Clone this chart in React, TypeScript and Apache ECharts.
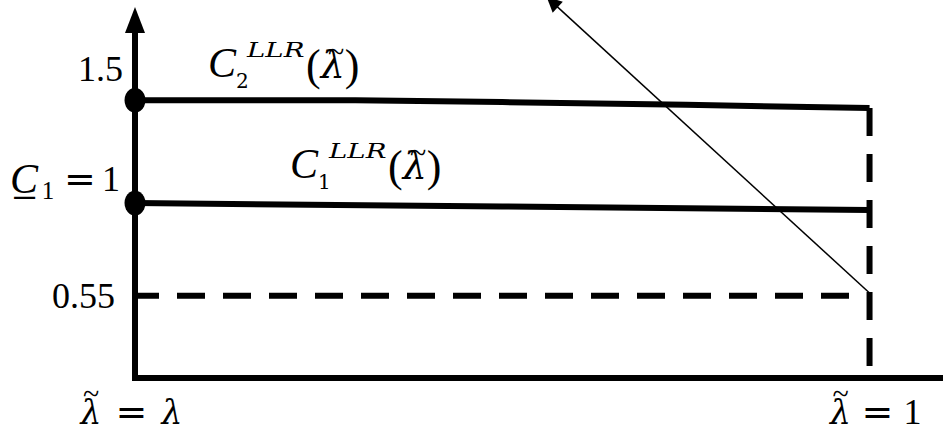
import React, { useEffect, useRef } from 'react';
import * as echarts from 'echarts';

// ---- data (schematic values) ----
const xRange = [0, 1.1];
const yRange = [0.15, 1.89];
const xTicks = [0, 1];
const yTicks = [0.55, 1, 1.5];
const c2Data = [[0, 1.5], [0.3, 1.5], [0.5, 1.491], [0.75, 1.478], [1, 1.462]];
const c1Data = [[0, 1], [0.5, 0.984], [1, 0.966]];
const lowerBound = [[0, 0.55], [1, 0.55]];
const boundary = [[1, 1.462], [1, 0.208]];
const startPoints = [[0, 1.5], [0, 1]];
const arrowLine = [[1, 0.563], [0.568, 1.977]];

const SERIF = "'Liberation Serif', 'DejaVu Serif', serif";
const DEJAVU = "'DejaVu Serif', serif";

function curveLabel(x0: number, b: number, sub: string) {
  const txt = (x: number, y: number, text: string, fontSize: number, italic: boolean, family: string, extra: any = {}) => ({
    type: 'text',
    x,
    y,
    ...extra,
    style: {
      text,
      fontSize,
      fontStyle: italic ? 'italic' : 'normal',
      fontFamily: family,
      fill: '#000',
      verticalAlign: 'middle',
      align: 'left',
    },
  });
  return {
    type: 'group',
    silent: true,
    children: [
      txt(x0, b - 14.2, 'C', 42, true, SERIF),
      txt(x0 + 28, b + 11 - 6.9, sub, 20, false, DEJAVU),
      txt(x0 + 39, b - 20 - 6.9, 'LLR', 20, true, DEJAVU, { scaleX: 1.38 }),
      {
        type: 'text',
        x: x0 + 98,
        y: b + 3 - 14.8,
        style: {
          text: '{p|(}{l|λ}{p|)}',
          verticalAlign: 'middle',
          align: 'left',
          rich: {
            p: { fontSize: 44, fontFamily: SERIF, fill: '#000', lineHeight: 44 },
            l: { fontSize: 38, fontFamily: DEJAVU, fontStyle: 'italic', fill: '#000', lineHeight: 44 },
          },
        },
      },
      {
        type: 'text',
        x: x0 + 98 + 30,
        y: b - 26,
        style: { text: '~', fontSize: 30, fontFamily: SERIF, fill: '#000', verticalAlign: 'middle', align: 'center' },
      },
    ],
  };
}

export default function App() {
  const ref = useRef<HTMLDivElement>(null);
  useEffect(() => {
    if (!ref.current) return;
    const chart = echarts.init(ref.current, null, { renderer: 'svg' });
    const near = (a: number, b: number) => Math.abs(a - b) < 1e-6;
    const base = { fontFamily: SERIF, color: '#000', align: 'center' };
    chart.setOption({
      animation: false,
      backgroundColor: '#fff',
      grid: { left: 135, right: 0, top: 20, bottom: 54, containLabel: false, outerBoundsMode: 'none' },
      xAxis: {
        type: 'value',
        min: xRange[0],
        max: xRange[1],
        axisLine: { show: true, onZero: false, lineStyle: { color: '#000', width: 6 } },
        axisTick: { show: false },
        splitLine: { show: false },
        axisLabel: {
          customValues: xTicks,
          margin: 9,
          formatter: (v: number) => {
            if (near(v, 0)) return '{t|~}{tspL| }\n{l|λ}{eqL|=}{l|λ}{padL| }';
            if (near(v, 1)) return '{padR| }{t|~}{tspR| }\n{padR| }{l|λ}{eqR|=}{one|1}';
            return '';
          },
          rich: {
            t: { ...base, fontSize: 30, width: 24, lineHeight: 13 },
            tspL: { ...base, fontSize: 10, width: 88, lineHeight: 13 },
            tspR: { ...base, fontSize: 10, width: 70, lineHeight: 13 },
            padL: { ...base, fontSize: 10, width: 7, lineHeight: 13 },
            padR: { ...base, fontSize: 10, width: 12, lineHeight: 13 },
            l: { ...base, fontFamily: DEJAVU, fontSize: 33, fontStyle: 'italic', width: 24, lineHeight: 24 },
            eqL: { ...base, fontFamily: DEJAVU, fontSize: 38, width: 57, lineHeight: 24 },
            eqR: { ...base, fontFamily: DEJAVU, fontSize: 38, width: 50, lineHeight: 24 },
            one: { ...base, fontSize: 36, width: 20, lineHeight: 24 },
          },
        },
      },
      yAxis: {
        type: 'value',
        min: yRange[0],
        max: yRange[1],
        axisLine: {
          show: true,
          onZero: false,
          symbol: ['none', 'triangle'],
          symbolSize: [20, 26],
          lineStyle: { color: '#000', width: 6, cap: 'square' },
        },
        axisTick: { show: false },
        splitLine: { show: false },
        axisLabel: {
          customValues: yTicks,
          margin: 12,
          formatter: (v: number) => {
            if (near(v, 1.5)) return '{n|1.5}\n{g1| }';
            if (near(v, 1)) return '{ci|C\u0332}{sub|1}{eq|=}{one|1}{sp2| }\n{g2| }';
            if (near(v, 0.55)) return '{n|0.55}{sp| }';
            return '';
          },
          rich: {
            n: { ...base, fontSize: 36, lineHeight: 48 },
            ci: { ...base, fontSize: 42, fontStyle: 'italic', lineHeight: 48, width: 32 },
            sub: { ...base, fontSize: 25, lineHeight: 14, verticalAlign: 'bottom', width: 16 },
            eq: { ...base, fontFamily: DEJAVU, fontSize: 38, lineHeight: 48, width: 48 },
            one: { ...base, fontSize: 36, lineHeight: 48, width: 14 },
            g1: { ...base, fontSize: 10, lineHeight: 62 },
            g2: { ...base, fontSize: 10, lineHeight: 48 },
            sp: { ...base, fontSize: 10, width: 8 },
            sp2: { ...base, fontSize: 10, width: 5 },
          },
        },
      },
      series: [
        {
          type: 'line', data: c2Data, symbol: 'none', clip: false, z: 3,
          lineStyle: { color: '#000', width: 6 },
        },
        {
          type: 'line', data: c1Data, symbol: 'none', clip: false, z: 3,
          lineStyle: { color: '#000', width: 6 },
        },
        {
          type: 'line', data: lowerBound, symbol: 'none', clip: false, z: 3,
          lineStyle: { color: '#000', width: 6, type: [28, 18], dashOffset: 3.5 },
        },
        {
          type: 'line', data: boundary, symbol: 'none', clip: false, z: 3,
          lineStyle: { color: '#000', width: 6, type: [28, 18] },
        },
        {
          type: 'scatter', data: startPoints, symbol: 'circle', symbolSize: [21, 25], clip: false, z: 5,
          itemStyle: { color: '#000', opacity: 1 },
        },
        {
          type: 'lines', coordinateSystem: 'cartesian2d', clip: false, z: 4,
          symbol: ['none', 'triangle'], symbolSize: 15,
          lineStyle: { color: '#000', width: 1.5, opacity: 1, curveness: 0 },
          data: [{ coords: arrowLine }],
        },
      ],
      graphic: [curveLabel(208, 77, '2'), curveLabel(290, 178, '1')],
    });
    return () => chart.dispose();
  }, []);
  return (
    <div
      ref={ref}
      style={{ position: 'fixed', left: 0, top: 0, width: 943, height: 432, background: '#fff' }}
    />
  );
}
